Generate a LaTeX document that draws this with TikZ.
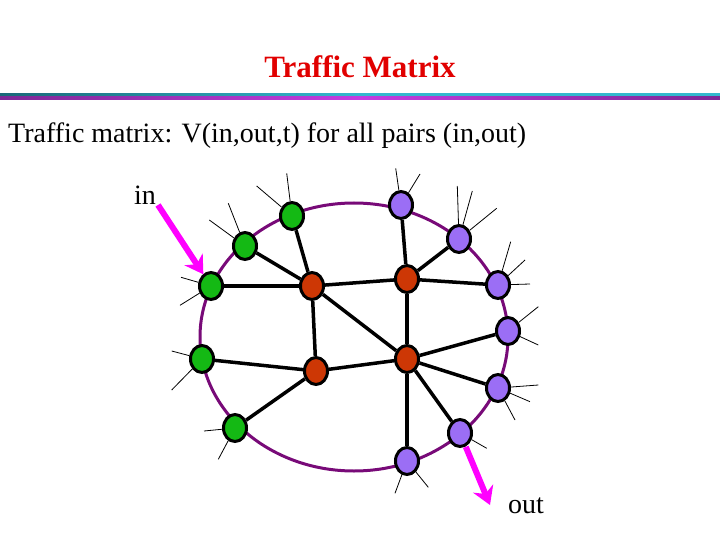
\documentclass[tikz,border=0pt]{standalone}
\usepackage{fontspec}
\setmainfont{Liberation Serif}
\usetikzlibrary{calc,shapes.geometric}
\pgfdeclarelayer{bg}
\pgfsetlayers{bg,main}
\definecolor{titlered}{RGB}{225,0,0}
\definecolor{ringpurple}{RGB}{120,10,120}
\definecolor{ngreen}{RGB}{20,185,20}
\definecolor{nred}{RGB}{205,55,5}
\definecolor{nviolet}{RGB}{155,110,245}
\definecolor{mag}{RGB}{255,0,255}
\definecolor{tealdark}{RGB}{25,105,120}
\definecolor{teallight}{RGB}{50,185,205}
\definecolor{purpdark}{RGB}{125,40,150}
\definecolor{purplight}{RGB}{195,60,225}
\tikzset{
  router/.style={ellipse, draw=black, line width=3pt, minimum width=23pt, minimum height=27pt, inner sep=0pt},
  gnode/.style={router, fill=ngreen},
  rnode/.style={router, fill=nred},
  pnode/.style={router, fill=nviolet},
  link/.style={line width=3.5pt, black},
  spoke/.style={line width=0.8pt, black},
  ring/.style={line width=3pt, ringpurple},
  magshaft/.style={line width=6pt, mag},
  maghead/.style={fill=mag},
  bigtext/.style={font=\fontsize{28}{32}\selectfont, inner sep=0pt}
}
\begin{document}
\begin{tikzpicture}[x=1pt,y=-1pt]
\useasboundingbox (0,0) rectangle (720,540);
% title
\node[anchor=base, font=\fontsize{31}{34}\selectfont\bfseries, text=titlered, inner sep=0pt] (title) at (360,78) {Traffic Matrix};
% divider
\shade[left color=tealdark, right color=teallight, middle color=teallight] (0,93.5) rectangle (720,96.5);
\shade[left color=purpdark, right color=purpdark, middle color=purplight] (0,96.5) rectangle (720,99.5);
% subtitle
\node[bigtext, anchor=base west] (sub) at (8,143) {Traffic matrix: V(in,out,t) for all pairs (in,out)};
% nodes
\node[gnode] (G1) at (292,216) {};
\node[gnode] (G2) at (245,246) {};
\node[gnode] (G3) at (211,286) {};
\node[gnode] (G4) at (202,359) {};
\node[gnode] (G5) at (235,428) {};
\node[rnode] (R1) at (312,286) {};
\node[rnode] (R2) at (407,279) {};
\node[rnode] (R3) at (316,371) {};
\node[rnode] (R4) at (407,359) {};
\node[pnode] (P1) at (401,205) {};
\node[pnode] (P2) at (459,239) {};
\node[pnode] (P3) at (498,285) {};
\node[pnode] (P4) at (508,331) {};
\node[pnode] (P5) at (498,388) {};
\node[pnode] (P6) at (460,433) {};
\node[pnode] (P7) at (407,461) {};
\begin{pgfonlayer}{bg}
% ring
\draw[ring] (354,337) ellipse [x radius=154, y radius=134];
% links
\draw[link] (G1) -- (R1);
\draw[link] (G2) -- (R1);
\draw[link] (G3) -- (R1);
\draw[link] (R1) -- (R2);
\draw[link] (R1) -- (R3);
\draw[link] (R1) -- (R4);
\draw[link] (P1) -- (R2);
\draw[link] (P2) -- (R2);
\draw[link] (P3) -- (R2);
\draw[link] (R2) -- (R4);
\draw[link] (G4) -- (R3);
\draw[link] (G5) -- (R3);
\draw[link] (R3) -- (R4);
\draw[link] (R4) -- (P4);
\draw[link] (R4) -- (P5);
\draw[link] (R4) -- (P6);
\draw[link] (R4) -- (P7);
% spokes
\draw[spoke] (G1) -- ++(-5.3,-42.7);
\draw[spoke] (G1) -- ++(-35.3,-30);
\draw[spoke] (G2) -- ++(-16.7,-42.7);
\draw[spoke] (G2) -- ++(-35.7,-26);
\draw[spoke] (G3) -- ++(-30,-8.7);
\draw[spoke] (G3) -- ++(-31,19.3);
\draw[spoke] (G4) -- ++(-30.3,-8);
\draw[spoke] (G4) -- ++(-30.3,31);
\draw[spoke] (G5) -- ++(-31,3);
\draw[spoke] (G5) -- ++(-16.7,31.3);
\draw[spoke] (P1) -- ++(-5.3,-36.7);
\draw[spoke] (P1) -- ++(19,-31);
\draw[spoke] (P2) -- ++(-1.7,-53);
\draw[spoke] (P2) -- ++(13.3,-48);
\draw[spoke] (P2) -- ++(37.7,-30.7);
\draw[spoke] (P3) -- ++(12.7,-43.3);
\draw[spoke] (P3) -- ++(27,-25);
\draw[spoke] (P3) -- ++(32,-1);
\draw[spoke] (P4) -- ++(30.3,-24.3);
\draw[spoke] (P4) -- ++(30.3,14);
\draw[spoke] (P5) -- ++(40.3,-3);
\draw[spoke] (P5) -- ++(32,13.7);
\draw[spoke] (P5) -- ++(17,32);
\draw[spoke] (P6) -- ++(26.7,15.3);
\draw[spoke] (P7) -- ++(21.3,26.3);
\draw[spoke] (P7) -- ++(-12,32.3);
\end{pgfonlayer}
% in / out
\node[bigtext, anchor=base west] (intext) at (134,205) {in};
\node[bigtext, anchor=base west] (outtext) at (508,513) {out};
\coordinate (inStart) at (158,205);
\coordinate (inTip) at ($(G3.center)!14pt!(inStart)$);
\coordinate (outStart) at ($(P6.center)!15pt!(490,505)$);
\coordinate (outEnd) at (490,505);
% in arrow
\draw[magshaft] (inStart) -- ($(inTip)!10pt!(inStart)$);
\fill[maghead] (inTip)
  -- ($($(inTip)!18pt!(inStart)$)!11pt!90:(inTip)$)
  -- ($(inTip)!12pt!(inStart)$)
  -- ($($(inTip)!18pt!(inStart)$)!11pt!-90:(inTip)$) -- cycle;
% out arrow
\draw[magshaft] (outStart) -- ($(outEnd)!10pt!(outStart)$);
\fill[maghead] (outEnd)
  -- ($($(outEnd)!18pt!(outStart)$)!11pt!90:(outEnd)$)
  -- ($(outEnd)!12pt!(outStart)$)
  -- ($($(outEnd)!18pt!(outStart)$)!11pt!-90:(outEnd)$) -- cycle;
\end{tikzpicture}
\end{document}
